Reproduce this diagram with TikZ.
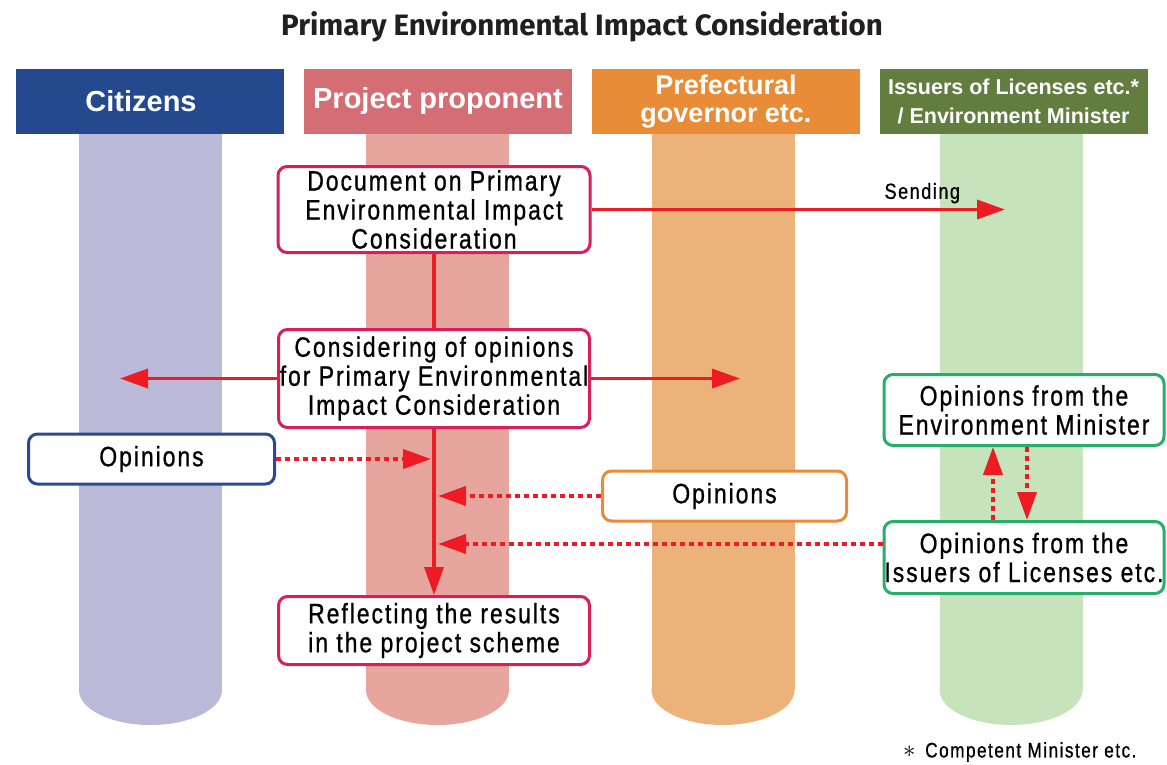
\documentclass[tikz,border=0pt]{standalone}
\usepackage{fontspec}
\setmainfont{Liberation Sans}
\newfontfamily\titlefont{Fira Sans}
\newfontfamily\boxfont{Liberation Sans}[FakeStretch=0.82,LetterSpace=7.0,FakeBold=0.8]
\usetikzlibrary{arrows.meta}

\definecolor{citBlue}{HTML}{25498F}
\definecolor{propRose}{HTML}{D46D74}
\definecolor{prefOrange}{HTML}{E88C37}
\definecolor{issGreen}{HTML}{627D3D}
\definecolor{citPillar}{HTML}{BAB9D8}
\definecolor{propPillar}{HTML}{E6A69E}
\definecolor{prefPillar}{HTML}{EBB27A}
\definecolor{issPillar}{HTML}{C7E3BB}
\definecolor{boxCrimson}{HTML}{D81E5B}
\definecolor{boxBlue}{HTML}{2A4B94}
\definecolor{boxGreen}{HTML}{27AE6A}
\definecolor{arrowRed}{HTML}{ED1C24}
\definecolor{inkGrey}{HTML}{231F20}

\begin{document}
\begin{tikzpicture}[x=1pt,y=-1pt]
\useasboundingbox (0,0) rectangle (1167,765);

\node[font=\titlefont\bfseries\fontsize{29.5}{32}\selectfont, text=inkGrey] (title) at (582,27) {Primary Environmental Impact Consideration};

% pillars under the headers
\foreach \cx/\col in {150.5/citPillar, 437.5/propPillar, 723/prefPillar, 1011/issPillar} {
	\fill[\col] (\cx-71.5,134) rectangle (\cx+71.5,690);
	\fill[\col] (\cx,690) ellipse [x radius=71.5pt, y radius=35pt];
}

\begin{scope}[every node/.style={rectangle,minimum width=268,minimum height=65,inner sep=0,text=white,align=center}]
	\node[fill=citBlue,font=\bfseries\fontsize{29}{32}\selectfont] (hCit) at (150,101.5) {Citizens\hspace{18pt}};
	\node[fill=propRose,font=\bfseries\fontsize{29}{32}\selectfont] (hProp) at (438,101.5) {Project proponent};
	\node[fill=prefOrange,font=\bfseries\fontsize{27}{28}\selectfont] (hPref) at (726,101.5) {Prefectural\\governor etc.};
	\node[fill=issGreen,font=\bfseries\fontsize{21.5}{29}\selectfont] (hIss) at (1013.5,101.5) {Issuers of Licenses etc.*\\/ Environment Minister};
\end{scope}

\begin{scope}[every node/.style={rectangle,draw,rounded corners=9pt,line width=3pt,fill=white,inner sep=0,align=center,font=\boxfont\fontsize{28}{29}\selectfont}]
	\node[draw=boxCrimson,minimum width=312,minimum height=86] (doc) at (434,209.5) {Document on Primary\\Environmental Impact\\Consideration};
	\node[draw=boxCrimson,minimum width=311,minimum height=98] (cons) at (434,378.5) {Considering of opinions\\for Primary Environmental\\Impact Consideration};
	\node[draw=boxCrimson,minimum width=311,minimum height=68] (refl) at (434,630.5) {Reflecting the results\\in the project scheme};
	\node[draw=boxBlue,minimum width=246,minimum height=50] (opCit) at (151.5,459) {Opinions};
	\node[draw=prefOrange,minimum width=244,minimum height=50] (opPref) at (724.5,496) {Opinions};
	\node[draw=boxGreen,minimum width=280,minimum height=71] (envMin) at (1024,410) {Opinions from the\\Environment Minister};
	\node[draw=boxGreen,minimum width=280,minimum height=72] (issOp) at (1024,557.5) {Opinions from the\\Issuers of Licenses etc.};
\end{scope}

\coordinate (sendEnd) at (1005,209.5);
\coordinate (toCit) at (120,378.5);
\coordinate (toPref) at (740,378.5);
\coordinate (inCit) at (431,459);
\coordinate (inPref) at (438,496);
\coordinate (inIss) at (438,544);

\begin{scope}[>={Triangle[length=28pt,width=19pt]},
              every edge/.style={draw=arrowRed,line width=3.5pt},
              dotflow/.style={dash pattern=on 5pt off 4pt,line width=4pt}]
	\path [->] (doc.east) edge node[pos=0.8,above=1pt,font=\boxfont\fontsize{22}{24}\selectfont] {Sending} (sendEnd);
	\path [-] (doc.south) edge (cons.north);
	\path [->] (cons.west) edge (toCit);
	\path [->] (cons.east) edge (toPref);
	\path [->] (cons.south) edge (refl.north);
	\path [->] (opCit.east) edge[dotflow] (inCit);
	\path [->] (opPref.west) edge[dotflow] (inPref);
	\path [->] ([yshift=13.5pt]issOp.west) edge[dotflow] (inIss);
	\path [->] ([xshift=-31pt]issOp.north) edge[dotflow] ([xshift=-31pt]envMin.south);
	\path [->] ([xshift=3pt]envMin.south) edge[dotflow] ([xshift=3pt]issOp.north);
\end{scope}

\node[anchor=east,font=\boxfont\fontsize{21}{24}\selectfont] (note) at (1140,752) {{\fontsize{34}{24}\selectfont$\ast$}\, Competent Minister etc.};
\end{tikzpicture}
\end{document}
